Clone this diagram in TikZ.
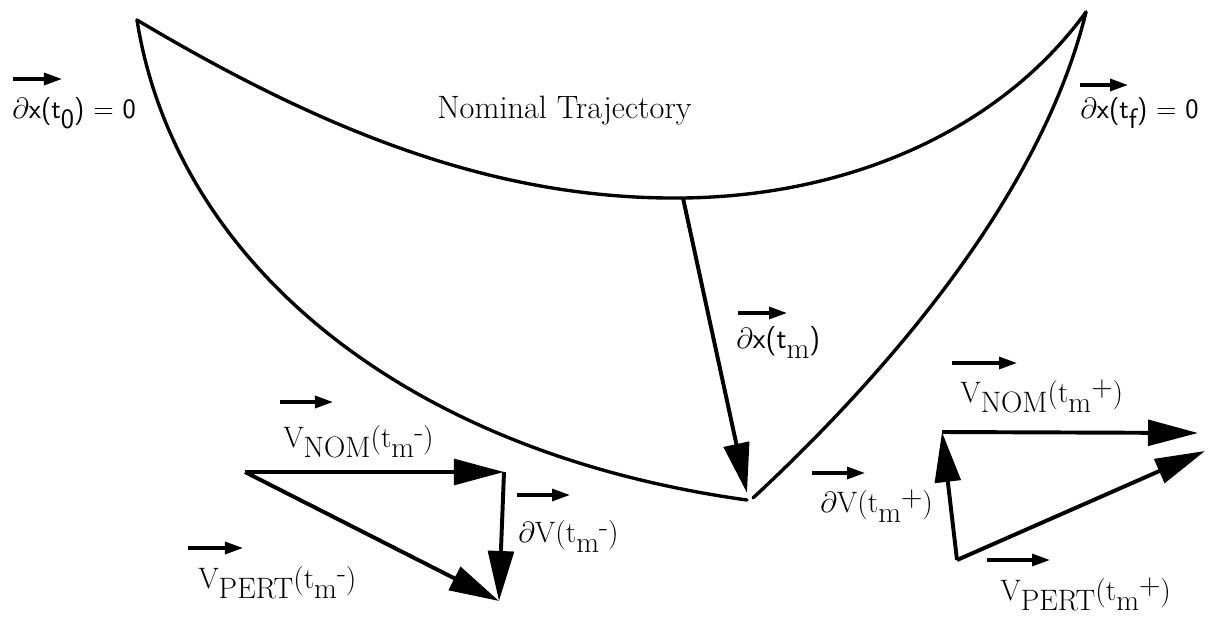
\documentclass[tikz,border=0pt]{standalone}
\usepackage{tikz}
\usetikzlibrary{arrows.meta}
\newcommand{\lo}[1]{\raisebox{-0.37em}{#1}}
\newcommand{\hi}[1]{\raisebox{0.2em}{#1}}
\tikzset{
  traj/.style={line width=2.4pt, draw=black, line cap=round},
  bigvec/.style={line width=2.8pt, draw=black, -{Triangle[length=1.25cm,width=0.64cm]}},
  overvec/.style={line width=2.3pt, draw=black, -{Triangle[length=0.45cm,width=0.3cm]}},
  lbl/.style={anchor=base west, inner sep=0pt, font=\fontsize{21}{25}\selectfont},
  lblsf/.style={lbl, font=\sffamily\fontsize{20}{24}\selectfont},
}

\begin{document}
\begin{tikzpicture}[x=0.025cm, y=-0.025cm]
\useasboundingbox (0,0) rectangle (1209,624);
% trajectory end points
\coordinate (t0) at (137,20);
\coordinate (tf) at (1086,12);
\coordinate (nom) at (683,198);
\coordinate (endL) at (747,500);
\coordinate (endR) at (753,498);
\coordinate (dxtip) at (747,493);
\draw[traj] (t0) .. controls (330,135) and (500,200) .. (nom)
  .. controls (850,196) and (1000,130) .. (tf);
\draw[traj] (t0) .. controls (175,260) and (400,452) .. (endL);
\draw[traj] (endR) .. controls (880,380) and (1040,200) .. (tf);
\draw[bigvec] (nom) -- (dxtip);
% velocities before the burn
\coordinate (lA) at (245,472);
\coordinate (lB) at (504,472);
\coordinate (lC) at (499,601);
\draw[bigvec] (lA) -- (lB);
\draw[bigvec] (lB) -- (lC);
\draw[bigvec] (lA) -- (lC);
% velocities after the burn
\coordinate (rA) at (957,560);
\coordinate (rB) at (942,432);
\coordinate (rC) at (1198,433);
\coordinate (rD) at (1205,451);
\draw[bigvec] (rA) -- (rB);
\draw[bigvec] (rB) -- (rC);
\draw[bigvec] (rA) -- (rD);
% labels
\node[lbl, font=\fontsize{23}{27}\selectfont] (nomlab) at (437,118) {Nominal Trajectory};
\node[lblsf] (dx0) at (12,118) {$\partial$x(t\lo{0}) = 0};
\node[lblsf] (dxf) at (1080,118) {$\partial$x(t\lo{f}) = 0};
\node[lbl] (dxtm) at (736,348) {$\partial$\textsf{x(t}\lo{m}\textsf{)}};
\node[lbl] (vnomm) at (283,447) {V\lo{NOM}(t\lo{m}\hi{-})};
\node[lbl] (dvm) at (518,542) {$\partial$V(t\lo{m}\hi{-})};
\node[lbl] (vpertm) at (198,588) {V\lo{PERT}(t\lo{m}\hi{-})};
\node[lbl] (dvp) at (820,512) {$\partial$V(t\lo{m}\hi{+})};
\node[lbl] (vnomp) at (960,402) {V\lo{NOM}(t\lo{m}\hi{+})};
\node[lbl] (vpertp) at (1000,600) {V\lo{PERT}(t\lo{m}\hi{+})};
% vector bars over the labels
\draw[overvec] ([shift={(1,-39)}]dx0.base west) -- ++(49,0);
\draw[overvec] ([shift={(0,-33)}]dxf.base west) -- ++(48,0);
\draw[overvec] ([shift={(2,-35)}]dxtm.base west) -- ++(49,0);
\draw[overvec] ([shift={(-3,-45)}]vnomm.base west) -- ++(53,0);
\draw[overvec] ([shift={(-1,-47)}]dvm.base west) -- ++(53,0);
\draw[overvec] ([shift={(-10,-40)}]vpertm.base west) -- ++(55,0);
\draw[overvec] ([shift={(-8,-39)}]dvp.base west) -- ++(53,0);
\draw[overvec] ([shift={(-8,-39)}]vnomp.base west) -- ++(65,0);
\draw[overvec] ([shift={(-13,-40)}]vpertp.base west) -- ++(63,0);
\end{tikzpicture}
\end{document}
